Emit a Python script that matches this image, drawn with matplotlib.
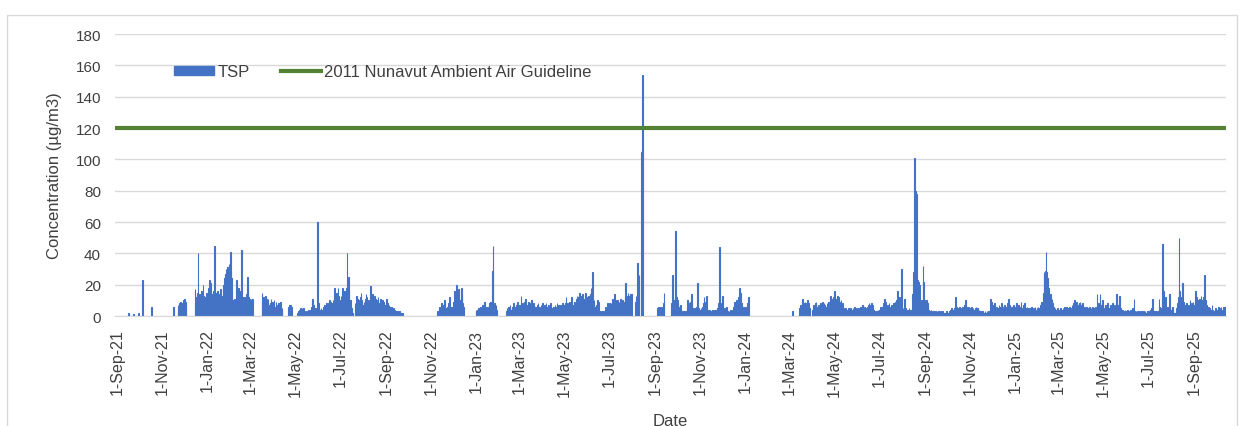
import numpy as np
import pandas as pd
import matplotlib
matplotlib.use("Agg")
import matplotlib.pyplot as plt
from matplotlib.lines import Line2D
from matplotlib.patches import Patch, Rectangle

# daily TSP (ug/m3), one string per run of consecutive days; "-" = no sample
seg_start = [
    "2021-09-17", "2021-09-24", "2021-09-30", "2021-10-06", "2021-10-18",
    "2021-11-17", "2021-11-23", "2021-12-16", "2022-03-17", "2022-04-22",
    "2022-05-04", "2022-11-09", "2023-01-01", "2023-02-11", "2023-09-04",
    "2023-09-23", "2024-03-05", "2024-03-15", "2024-04-01",
]

tsp_fall21 = ["2", "1.5", "2", "23", "6", "6", "7 4 8 9 6 8 5 10 7 11 9 6"]

tsp_winter22 = (
    "17 8 12 15 40 12 14 11 13 16 14 20 13 10 12 9 15 11 18 14 "
    "23 21 12 9 14 16 45 10 13 15 12 16 14 10 13 17 13 9 12 20 "
    "24 27 30 25 31 28 33 30 41 29 24 8 10 7 11 9 23 12 10 18 "
    "14 11 16 42 12 10 12 11 9 12 14 25 19 12 11 10 11 9 11"
)

tsp_spring22 = [
    "15 9 12 11 10 13 11 8 11 7 5 8 11 6 9 7 10 6 5 9 4 7 8 5 6 9 4 5",
    "6 7 5 7 6",
]

tsp_summer22 = (
    "2 3 2 4 5 3 5 4 5 3 2 3 2 2 3 4 2 3 4 6 11 3 7 5 4 3 5 "
    "60 "
    "8 5 4 3 5 4 3 6 5 7 4 8 6 5 8 10 6 9 7 8 10 6 "
    "18 12 9 15 11 18 13 10 8 13 9 18 12 15 16 14 18 40 16 25 16 10 "
    "10 5 3 2 - - 8 6 13 11 8 6 10 12 15 10 7 5 9 6 11 14 12 8 10 - 9 19 12 "
    "8 14 10 13 9 11 6 10 12 8 5 7 11 8 10 6 9 5 7 6 "
    "11 8 5 7 6 4 6 5 4 5 3 4 3 2 3 3 2 3 2 2 2 2"
)

tsp_winter23 = [
    "2 3 2 4 6 5 8 6 7 4 10 8 5 4 6 5 8 12 5 4 "
    "6 3 5 9 16 8 11 20 9 17 12 6 10 18 14 8 6",
    "4 3 4 5 4 5 6 5 6 7 5 7 9 6 5 4 6 5 8 9 9 8 29 45 6 8 5 7 4",
]

tsp_2023 = (
    "3 5 4 6 5 7 4 3 5 6 8 5 4 6 7 9 6 5 "
    "7 5 13 6 8 5 7 9 11 6 4 7 9 5 6 "
    "8 10 7 5 8 6 4 6 5 7 8 5 6 4 7 5 8 6 4 7 5 8 6 5 7 4 6 8 5 - "
    "4 6 5 7 4 6 8 5 7 6 4 7 5 8 6 7 5 8 12 6 8 5 7 9 6 8 12 7 5 7 "
    "9 8 11 13 10 12 15 11 13 10 14 12 9 11 15 10 12 11 9 13 12 14 18 13 28 "
    "8 10 6 5 7 6 10 9 3 2 2 3 2 2 3 2 4 6 5 8 6 5 8 7 8 6 11 8 9 14 "
    "10 8 9 10 8 9 7 11 8 9 10 7 9 12 21 13 12 15 13 12 "
    "14 9 14 - - - - 9 13 10 34 18 26 - - 105 106 154"
)

tsp_fall23 = [
    "5 6 4 5 6 5 4 6 8 15",
    "8 26 12 10 7 9 54 12 10 8 6 5 7 4 3 2 3 2 3 2 "
    "3 5 10 7 8 6 9 14 8 5 4 5 3 3 6 21 8 5 4 3 "
    "5 4 6 8 12 7 9 6 13 4 3 2 4 3 2 3 4 3 4 3 "
    "4 3 5 6 8 44 9 6 8 13 5 4 5 3 4 6 3 2 3 2 "
    "4 3 2 4 6 7 9 6 10 8 7 12 18 9 15 8 6 5 4 6 5 4 6 8 12",
]

tsp_spring24 = ["3", "5 7 6 9 11 8 6 9 7 8 10 6 8 5"]

tsp_2024_25 = (
    "4 6 7 5 8 9 6 5 7 4 6 8 5 7 9 6 8 7 5 6 8 7 9 6 10 13 8 11 9 12 "
    "16 10 9 11 13 8 12 9 7 10 6 8 5 4 3 5 4 3 4 5 3 4 5 4 3 5 4 6 3 4 "
    "5 4 3 5 4 6 5 4 7 5 4 6 5 4 5 6 7 8 6 7 8 6 7 4 3 3 2 3 3 4 "
    "3 4 6 5 4 6 5 8 11 9 6 5 7 4 8 5 6 7 4 6 8 8 7 9 10 16 8 9 12 7 "
    "9 30 3 5 4 11 5 3 2 4 3 5 2 4 3 5 14 28 24 101 80 78 10 23 22 20 9 8 10 9 "
    "32 22 10 8 9 10 8 5 4 3 3 4 3 2 3 3 2 3 2 3 2 3 2 2 3 2 2 3 2 2 "
    "2 2 3 2 2 2 3 4 3 5 3 4 2 5 12 6 4 3 5 4 6 5 3 4 6 5 7 8 10 6 "
    "5 4 6 3 5 4 6 3 5 4 3 5 6 4 5 3 4 3 2 3 2 3 2 2 3 2 2 3 2 3 "
    "2 3 11 9 6 5 7 8 4 5 6 4 5 7 6 4 5 8 5 6 4 7 5 6 5 8 11 7 5 4 "
    "6 5 4 7 5 6 4 8 5 6 7 5 6 9 4 5 7 6 8 5 4 6 3 5 4 3 5 6 4 3 "
    "5 4 6 3 4 5 6 4 5 7 6 9 8 15 28 27 29 41 28 24 18 15 12 14 10 11 8 6 4 5 "
    "3 4 5 3 4 3 5 4 3 4 5 4 6 5 4 6 5 4 5 6 4 5 7 6 8 10 7 6 9 8 "
    "7 6 8 9 6 7 8 5 4 6 5 4 6 5 4 5 6 4 5 4 6 5 4 5 6 4 14 5 8 6 "
    "14 7 5 10 6 5 4 6 7 5 8 6 5 4 7 6 5 8 4 6 7 5 14 8 6 7 13 6 5 4 "
    "3 4 2 3 4 2 3 4 3 2 3 4 2 3 5 4 11 3 2 3 2 3 2 2 3 2 3 2 2 3 "
    "2 3 2 2 3 2 3 2 3 4 5 11 4 3 3 2 3 3 2 3 11 6 5 4 8 46 16 12 10 12 "
    "5 3 6 4 14 5 4 3 6 4 2 2 2 2 5 8 12 50 16 10 8 12 21 9 6 7 5 8 4 6 "
    "7 5 10 6 8 5 9 7 6 8 16 12 10 8 9 11 7 13 10 9 12 8 26 10 7 5 4 6 3 5 "
    "4 3 7 4 3 2 3 5 4 3 4 6 5 3 6 4 3 6 5 6 6"
)

seg_vals = (tsp_fall21 + [tsp_winter22] + tsp_spring22 + [tsp_summer22]
            + tsp_winter23 + [tsp_2023] + tsp_fall23 + tsp_spring24 + [tsp_2024_25])

guideline = 120
x_ticks = pd.date_range("2021-09-01", "2025-09-01", freq="2MS")
y_ticks = list(range(0, 181, 20))

dates, values = [], []
for start, vals in zip(seg_start, seg_vals):
    nums = [np.nan if t == "-" else float(t) for t in vals.split()]
    dates.extend(pd.date_range(start, periods=len(nums), freq="D"))
    values.extend(nums)
dates = pd.DatetimeIndex(dates)
values = np.array(values)

plt.rcParams["font.family"] = ["Liberation Sans", "DejaVu Sans"]
txt = "#404040"
blue = "#4472C4"
green = "#548235"

fig = plt.figure(figsize=(12.44, 4.27), dpi=100)
ax = fig.add_axes([0.0924, 0.2576, 0.8932, 0.6604])

ax.bar(dates, values, width=1.0, color=blue, edgecolor=blue, linewidth=0.8,
       zorder=2)
ax.axhline(guideline, color=green, linewidth=3, zorder=3)

ax.set_ylim(0, 180)
ax.set_yticks(y_ticks)
ax.set_xlim(pd.Timestamp("2021-08-29 12:00"), pd.Timestamp("2025-10-14"))
ax.set_xticks(x_ticks)
ax.set_xticklabels([f"{d.day}-{d.strftime('%b-%y')}" for d in x_ticks],
                   rotation=90)
ax.tick_params(axis="both", length=0, colors=txt)
ax.tick_params(axis="y", labelsize=11, pad=10)
ax.tick_params(axis="x", labelsize=11.5, pad=9)
ax.grid(axis="y", color="#D9D9D9", linewidth=1, zorder=0)
ax.set_axisbelow(True)
for side in ["top", "right", "left"]:
    ax.spines[side].set_visible(False)
ax.spines["bottom"].set_color("#D9D9D9")

ax.set_ylabel("Concentration (µg/m3)", fontsize=12, color=txt, labelpad=10)
ax.set_xlabel("Date", fontsize=12, color=txt, labelpad=12)

handles = [Patch(color=blue, label="TSP"),
           Line2D([], [], color=green, linewidth=3,
                  label="2011 Nunavut Ambient Air Guideline")]
ax.legend(handles=handles, loc="center left", bbox_to_anchor=(0.053, 0.867),
          ncol=2, frameon=False, fontsize=12, handlelength=2.4,
          handleheight=0.45, handletextpad=0.2, columnspacing=1.9,
          borderpad=0, borderaxespad=0, labelcolor=txt)

fig.patches.append(Rectangle((7 / 1244, -0.05), 1230 / 1244, 1.05 - 16 / 427,
                             transform=fig.transFigure, fill=False,
                             edgecolor="#D9D9D9", linewidth=1))

fig.savefig("out.png", dpi=100)
